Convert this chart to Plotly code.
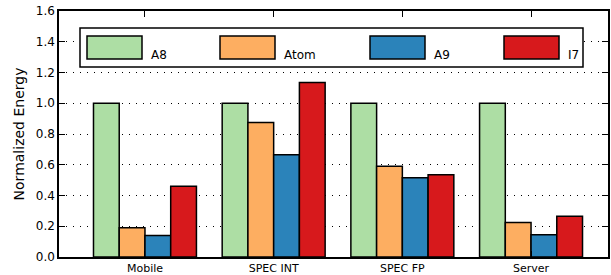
import plotly.graph_objects as go

categories = ["Mobile", "SPEC INT", "SPEC FP", "Server"]
series_names = ["A8", "Atom", "A9", "I7"]
a8 = [1.0, 1.0, 1.0, 1.0]
atom = [0.19, 0.875, 0.59, 0.225]
a9 = [0.14, 0.665, 0.515, 0.145]
i7 = [0.46, 1.135, 0.535, 0.265]
y_ticks = [0.0, 0.2, 0.4, 0.6, 0.8, 1.0, 1.2, 1.4, 1.6]

colors = ["#addea4", "#fdae61", "#2b83ba", "#d7191c"]
values = [a8, atom, a9, i7]
xpos = list(range(len(categories)))

fig = go.Figure()
for name, vals, col in zip(series_names, values, colors):
    fig.add_trace(go.Bar(
        x=xpos, y=vals, name=name,
        marker=dict(color=col, line=dict(color="black", width=1.5)),
        showlegend=False,
    ))

W, H = 611, 275
ml, mr, mt, mb = 59, 3, 11, 18
pw, ph = W - ml - mr, H - mt - mb

def px2paper_x(px):
    return (px - ml) / pw

def px2paper_y(py):
    return 1 - (py - mt) / ph

shapes = []
annotations = []
# legend box
shapes.append(dict(type="rect", xref="paper", yref="paper",
                   x0=px2paper_x(80), x1=px2paper_x(583),
                   y0=px2paper_y(67), y1=px2paper_y(28),
                   line=dict(color="black", width=1.5), fillcolor="white", layer="above"))
patch_x = [87, 220, 370, 504]
for name, col, px in zip(series_names, colors, patch_x):
    shapes.append(dict(type="rect", xref="paper", yref="paper",
                       x0=px2paper_x(px), x1=px2paper_x(px + 55),
                       y0=px2paper_y(59), y1=px2paper_y(36),
                       line=dict(color="black", width=1.5), fillcolor=col, layer="above"))
    annotations.append(dict(xref="paper", yref="paper",
                            x=px2paper_x(px + 62), y=px2paper_y(55),
                            text=name, showarrow=False, xanchor="left", yanchor="middle",
                            font=dict(size=12, color="black")))

fig.update_layout(
    width=W, height=H,
    margin=dict(l=ml, r=mr, t=mt, b=mb, pad=0, autoexpand=False),
    paper_bgcolor="white", plot_bgcolor="white",
    barmode="group", bargap=0.2, bargroupgap=0,
    font=dict(family="DejaVu Sans", color="black"),
    shapes=shapes, annotations=annotations,
    xaxis=dict(
        range=[-0.668, 3.598], tickvals=xpos, ticktext=categories,
        ticks="inside", ticklen=6, tickwidth=1, tickcolor="black",
        showline=True, linecolor="black", linewidth=1.5, mirror="ticks",
        showgrid=False, zeroline=False, tickfont=dict(size=11),
        automargin=False,
    ),
    yaxis=dict(
        range=[0, 1.6], tickvals=y_ticks, tickformat=".1f",
        ticks="inside", ticklen=6, tickwidth=1, tickcolor="black",
        showline=True, linecolor="black", linewidth=1.5, mirror="ticks",
        showgrid=True, gridcolor="black", gridwidth=1, griddash="1px,6px",
        zeroline=False, tickfont=dict(size=12), automargin=False,
        title=dict(text="Normalized Energy", font=dict(size=14), standoff=8),
    ),
)

fig.write_html(
    "out.html",
    config={"displayModeBar": False},
    post_script="document.body.style.margin='0';document.body.style.overflow='hidden';",
)
